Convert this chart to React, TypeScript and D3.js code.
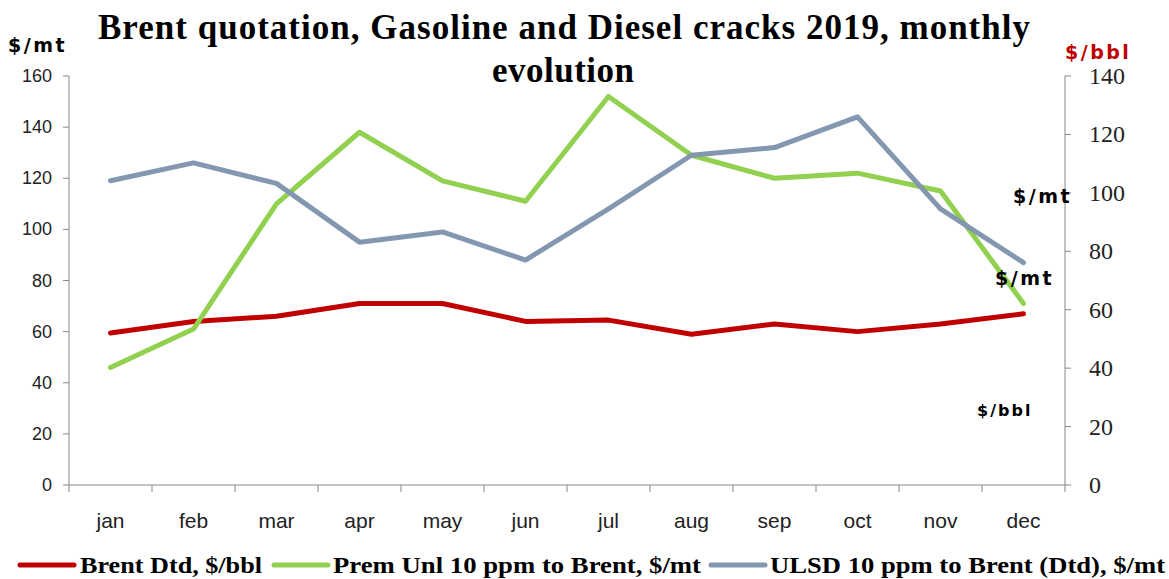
import React from "react";
import * as d3 from "d3";

const months = ["jan","feb","mar","apr","may","jun","jul","aug","sep","oct","nov","dec"];
const brent = [59.5, 64, 66, 71, 71, 64, 64.5, 59, 63, 60, 63, 67];
const premUnl = [46, 61, 110, 138, 119, 111, 152, 129, 120, 122, 115, 71];
const ulsd = [119, 126, 118, 95, 99, 88, 108, 129, 132, 144, 108, 87];
const leftTicks = [0, 20, 40, 60, 80, 100, 120, 140, 160];
const rightTicks = [0, 20, 40, 60, 80, 100, 120, 140];
const seriesNames = ["Brent Dtd, $/bbl", "Prem Unl 10 ppm to Brent, $/mt", "ULSD 10 ppm to Brent (Dtd), $/mt"];
const colors = ["#C00000", "#92D050", "#8497B0"];

export default function App() {
  const W = 1169, H = 579;
  const x0 = 69, x1 = 1065, yTop = 76, yBot = 485;
  const x = d3.scaleBand<string>().domain(months).range([x0, x1]);
  const yL = d3.scaleLinear().domain([0, 160]).range([yBot, yTop]);
  const yR = d3.scaleLinear().domain([0, 140]).range([yBot, yTop]);
  const cx = (m: string) => (x(m) as number) + x.bandwidth() / 2;
  const line = d3.line<number>().x((_, i) => cx(months[i])).y(v => yL(v));
  const all = [brent, premUnl, ulsd];
  const axisColor = "#878787";
  const sans = "'DejaVu Sans', Verdana, sans-serif";
  const narrow = "'Liberation Sans Narrow', 'Liberation Sans', Arial, sans-serif";
  const serif = "'Liberation Serif', 'Times New Roman', serif";
  const legendItems = [
    { lx: 20, tx: 80, w: 182 },
    { lx: 274, tx: 333, w: 368 },
    { lx: 711, tx: 770, w: 395 },
  ];
  return (
    <svg width={W} height={H} style={{ position: "absolute", left: 0, top: 0, background: "#fff" }}>
      <text x={98} y={39} textLength={932} lengthAdjust="spacing" fontFamily={serif} fontWeight="bold" fontSize={35}>
        Brent quotation, Gasoline and Diesel cracks 2019, monthly
      </text>
      <text x={492} y={82} textLength={142} lengthAdjust="spacing" fontFamily={serif} fontWeight="bold" fontSize={35}>
        evolution
      </text>
      <text x={8} y={52} fontFamily={sans} fontWeight="bold" fontSize={19} letterSpacing={2.5}>$/mt</text>
      <text x={1065} y={59} fontFamily={sans} fontWeight="bold" fontSize={19} letterSpacing={2.5} fill="#C00000">$/bbl</text>

      {/* left axis */}
      <line x1={x0} x2={x0} y1={yTop} y2={yBot} stroke={axisColor} />
      {leftTicks.map(t => (
        <g key={"l" + t}>
          <line x1={x0 - 6} x2={x0} y1={yL(t)} y2={yL(t)} stroke={axisColor} />
          <text x={52} y={yL(t) + 6} textAnchor="end" fontFamily={narrow} fontSize={18} fill="#222">{t}</text>
        </g>
      ))}
      {/* right axis */}
      <line x1={x1} x2={x1} y1={yTop} y2={yBot} stroke={axisColor} />
      {rightTicks.map(t => (
        <g key={"r" + t}>
          <line x1={x1} x2={x1 + 6} y1={yR(t)} y2={yR(t)} stroke={axisColor} />
          <text x={1089} y={yR(t) + 8} fontFamily={serif} fontSize={24} fill="#222">{t}</text>
        </g>
      ))}
      {/* bottom axis */}
      <line x1={x0} x2={x1} y1={yBot} y2={yBot} stroke={axisColor} />
      {months.map((m) => (
        <g key={m}>
          <line x1={x(m)} x2={x(m)} y1={yBot} y2={yBot + 7} stroke={axisColor} />
          <text x={cx(m)} y={528} textAnchor="middle" fontFamily={narrow} fontSize={21} fill="#222">{m}</text>
        </g>
      ))}
      <line x1={x1} x2={x1} y1={yBot} y2={yBot + 7} stroke={axisColor} />

      {all.map((s, i) => (
        <path key={i} d={line(s) || ""} fill="none" stroke={colors[i]} strokeWidth={5} strokeLinecap="round" strokeLinejoin="round" />
      ))}

      <text x={1013} y={203} fontFamily={sans} fontWeight="bold" fontSize={19} letterSpacing={2.5}>$/mt</text>
      <text x={995} y={285} fontFamily={sans} fontWeight="bold" fontSize={19} letterSpacing={2.5}>$/mt</text>
      <text x={977} y={416} fontFamily={sans} fontWeight="bold" fontSize={16} letterSpacing={2}>$/bbl</text>

      {seriesNames.map((n, i) => (
        <g key={n}>
          <line x1={legendItems[i].lx} x2={legendItems[i].lx + 54} y1={565} y2={565} stroke={colors[i]} strokeWidth={5} strokeLinecap="round" />
          <text x={legendItems[i].tx} y={573} textLength={legendItems[i].w} lengthAdjust="spacingAndGlyphs" fontFamily={serif} fontWeight="bold" fontSize={24}>{n}</text>
        </g>
      ))}
    </svg>
  );
}
